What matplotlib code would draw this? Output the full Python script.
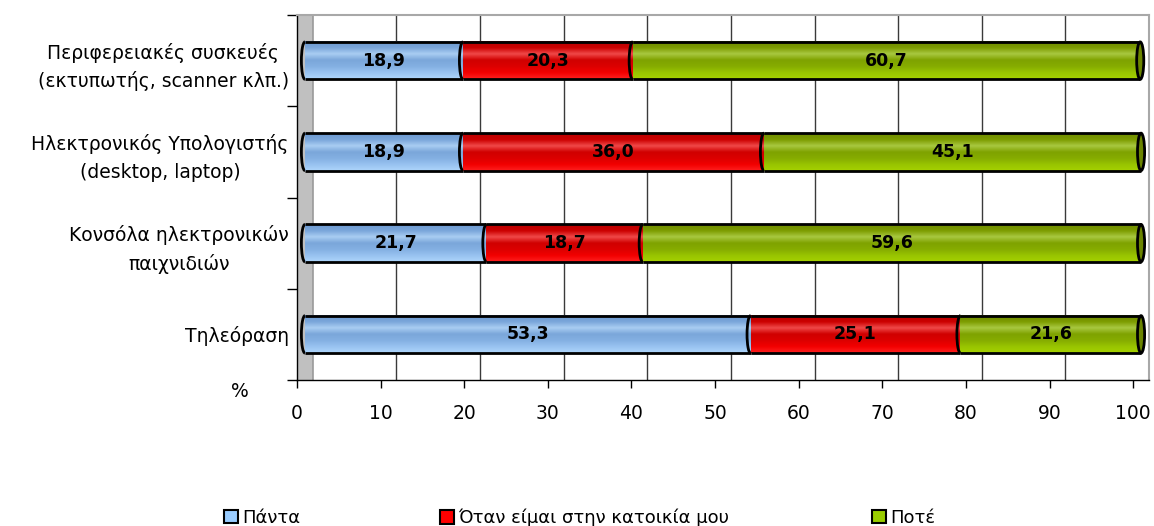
import matplotlib
matplotlib.use("Agg")
import matplotlib.pyplot as plt
import numpy as np
from matplotlib.colors import LinearSegmentedColormap
from matplotlib.patches import Rectangle, Arc, Ellipse, Patch

plt.rcParams['font.family'] = ['DejaVu Sans']

categories = ['Τηλεόραση',
              'Κονσόλα ηλεκτρονικών\nπαιχνιδιών',
              'Ηλεκτρονικός Υπολογιστής\n(desktop, laptop)',
              'Περιφερειακές συσκευές\n(εκτυπωτής, scanner κλπ.)']
always = [53.3, 21.7, 18.9, 18.9]
at_home = [25.1, 18.7, 36.0, 20.3]
never = [21.6, 59.6, 45.1, 60.7]
series_names = ['Πάντα', 'Όταν είμαι στην κατοικία μου', 'Ποτέ']
series = [always, at_home, never]

# colour ramps (top -> bottom) imitating the excel cylinder shading
ramps = [
    ['#aed5fb', '#98c2f0', '#84b0e2', '#7aa6da', '#a9cdf2', '#7aa6da', '#6c98cf'],
    ['#ff2020', '#f20000', '#dc0000', '#d00000', '#f04848', '#cc0000', '#b80000'],
    ['#a6d200', '#98c400', '#86ac00', '#7fa200', '#a8c840', '#7d9c00', '#6e8a00'],
]
flat = ['#99ccff', '#ff0000', '#99cc00']
cap_green = '#6b8500'

depth = 1.9      # 3d depth of the back wall (x units)
half = depth / 2
bar_h = 0.41
cap_w = 0.85

fig = plt.figure(figsize=(11.54, 5.26), dpi=100)
W, H = 1154, 526
ax = fig.add_axes([297 / W, 1 - 380 / H, (1149 - 297) / W, (380 - 15) / H])
ax.set_xlim(0, 100 + depth)
ax.set_ylim(-0.5, 3.5)

# side wall and gridlines of the back wall
ax.add_patch(Rectangle((0, -0.5), depth, 4, facecolor='#c0c0c0',
                       edgecolor='none', zorder=0))
ax.axvline(depth, color='#999999', lw=1.2, zorder=0.5)
for gx in range(10, 101, 10):
    ax.axvline(gx + depth, color='#3a3a3a', lw=1.0, zorder=0.5)

y = np.arange(len(categories))
grad = np.linspace(0, 1, 64).reshape(-1, 1)
left = np.zeros(len(categories))
for si, vals in enumerate(series):
    cmap = LinearSegmentedColormap.from_list('r%d' % si, ramps[si])
    for i, v in enumerate(vals):
        x0 = left[i] + half
        x1 = x0 + v
        y0, y1 = y[i] - bar_h / 2, y[i] + bar_h / 2
        ax.imshow(grad, cmap=cmap, aspect='auto', extent=[x0, x1, y1, y0],
                  zorder=2, interpolation='bilinear')
        ax.plot([x0, x1], [y0, y0], color='black', lw=2, zorder=3,
                solid_capstyle='butt')
        ax.plot([x0, x1], [y1, y1], color='black', lw=2, zorder=3,
                solid_capstyle='butt')
        ax.add_patch(Arc((x0, y[i]), cap_w, bar_h, theta1=90, theta2=270,
                         color='black', lw=2, zorder=4))
        if si == len(series) - 1:
            ax.add_patch(Ellipse((x1, y[i]), cap_w, bar_h,
                                 facecolor=cap_green, edgecolor='black',
                                 lw=2, zorder=4))
        ax.text((x0 + x1) / 2, y[i], ('%.1f' % v).replace('.', ','),
                ha='center', va='center', fontsize=12.5, fontweight='bold',
                color='black', zorder=5)
    left = left + np.array(vals)

# axes
ax.set_xticks(range(0, 101, 10))
ax.set_xticklabels([str(t) for t in range(0, 101, 10)], fontsize=13.5)
ax.set_yticks(y)
ax.set_yticklabels(categories, fontsize=13.5, linespacing=1.55,
                   multialignment='center')
ax.set_yticks(np.arange(-0.5, 3.6, 1), minor=True)
ax.tick_params(axis='y', which='major', length=0, pad=6)
ax.tick_params(axis='y', which='minor', length=7, width=1)
ax.tick_params(axis='x', length=6, width=1, pad=11)
for s in ['left', 'bottom']:
    ax.spines[s].set_color('black')
    ax.spines[s].set_linewidth(1)
for s in ['top', 'right']:
    ax.spines[s].set_color('#a8a8a8')
    ax.spines[s].set_linewidth(1.5)
ax.text(-0.067, -0.005, '%', transform=ax.transAxes, fontsize=13.5,
        ha='center', va='top')

# legend
legend_x = [232, 448, 880]
for name, col, lx in zip(series_names, flat, legend_x):
    h = Patch(facecolor=col, edgecolor='black', lw=1.5)
    fig.legend([h], [name], loc='center left',
               bbox_to_anchor=((lx - 8) / W, 1 - 518 / H), frameon=False,
               fontsize=13, handlelength=0.75, handleheight=0.75,
               handletextpad=0.25, borderpad=0, borderaxespad=0)

fig.savefig('out.png', dpi=100)
